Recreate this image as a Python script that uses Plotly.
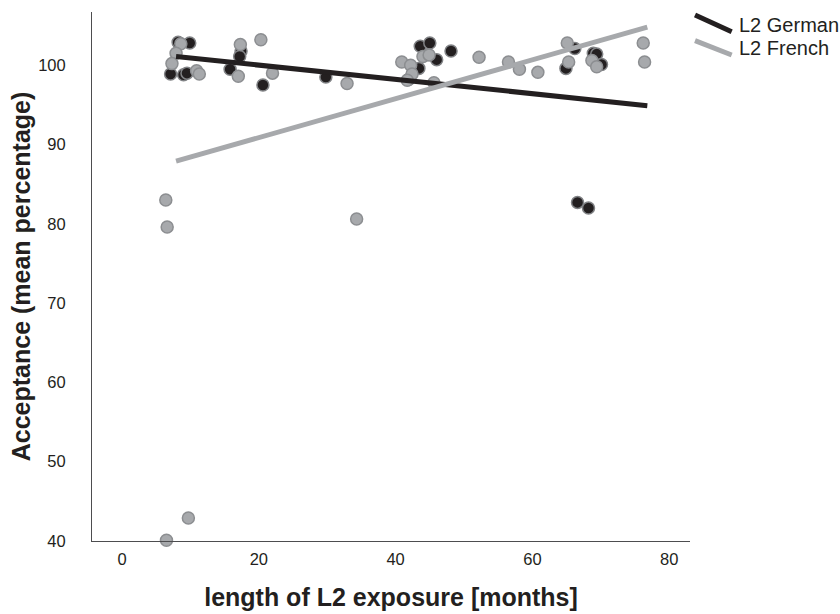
import plotly.graph_objects as go

# ---- data ----
german_x = [8.2, 9.9, 7.1, 9.0, 9.5, 17.4, 17.2, 15.8, 20.6, 29.8, 43.6, 45.0, 46.0, 48.1,
            43.4, 41.9, 66.2, 64.9, 68.9, 69.4, 70.1, 66.6, 68.2]
german_y = [102.9, 102.8, 98.9, 98.8, 99.0, 101.8, 101.1, 99.5, 97.5, 98.5, 102.4, 102.8, 100.7, 101.8,
            99.6, 98.2, 102.1, 99.6, 101.5, 101.4, 100.1, 82.7, 82.0]

french_x = [8.6, 7.9, 7.3, 10.9, 11.3, 17.3, 17.0, 20.3, 22.0, 32.9, 40.9, 42.2, 44.0, 44.9,
            42.4, 41.7, 45.6, 52.2, 56.5, 58.1, 60.8, 65.1, 65.3, 68.7, 69.4, 76.2, 76.4,
            6.4, 6.6, 34.3, 9.7, 6.5]
french_y = [102.7, 101.5, 100.2, 99.3, 98.9, 102.6, 98.6, 103.2, 99.0, 97.7, 100.4, 100.0, 101.1, 101.3,
            98.9, 98.1, 97.8, 101.0, 100.4, 99.5, 99.1, 102.8, 100.4, 100.6, 99.8, 102.8, 100.4,
            83.0, 79.6, 80.6, 42.9, 40.1]

fit_x = [7.9, 76.8]
german_fit = [101.1, 94.9]
french_fit = [87.9, 104.8]

series_names = ["L2 German", "L2 French"]
x_ticks = [0, 20, 40, 60, 80]
y_ticks = [40, 50, 60, 70, 80, 90, 100]

BLACK = "#231f20"
GRAY = "#a7a9ac"
FONT = "Liberation Sans, Arial, Helvetica"

fig = go.Figure()
fig.add_trace(go.Scatter(x=german_x, y=german_y, mode="markers", cliponaxis=False,
                         marker=dict(size=12, color=BLACK, line=dict(color="#808285", width=1.5)),
                         showlegend=False))
fig.add_trace(go.Scatter(x=french_x, y=french_y, mode="markers", cliponaxis=False,
                         marker=dict(size=12, color=GRAY, line=dict(color="#8c8e91", width=1.5)),
                         showlegend=False))
fig.add_trace(go.Scatter(x=fit_x, y=german_fit, mode="lines", line=dict(color=BLACK, width=5),
                         showlegend=False))
fig.add_trace(go.Scatter(x=fit_x, y=french_fit, mode="lines", line=dict(color=GRAY, width=5),
                         showlegend=False))

# custom legend (slanted line samples, as in the reference)
legend_items = [(series_names[0], BLACK, 0.9943, 0.9628, 0.9754),
                (series_names[1], GRAY, 0.9458, 0.9187, 0.9314)]
for name, col, y0, y1, yt in legend_items:
    fig.add_shape(type="line", xref="paper", yref="paper", x0=1.0084, y0=y0, x1=1.0697, y1=y1,
                  line=dict(color=col, width=5))
    fig.add_annotation(xref="paper", yref="paper", x=1.0778, y=yt, text=name, showarrow=False,
                       xanchor="left", yanchor="middle",
                       font=dict(family=FONT, size=20, color="#231f20"))

fig.update_layout(
    width=840, height=614,
    margin=dict(l=92, r=150, t=12, b=73),
    paper_bgcolor="white", plot_bgcolor="white",
    font=dict(family=FONT, size=16.5, color="#231f20"),
    xaxis=dict(range=[-4.39, 83.04], tickvals=x_ticks, ticks="", showgrid=False, zeroline=False,
               showline=True, linecolor="#4d4d4f", linewidth=1, ticklabelstandoff=3,
               automargin=False,
               title=dict(text="<b>length of L2 exposure [months]</b>",
                          font=dict(size=25, family=FONT, color="#231f20"),
                          standoff=21)),
    yaxis=dict(range=[40, 106.71], tickvals=y_ticks, ticks="", showgrid=False, zeroline=False,
               showline=True, linecolor="#4d4d4f", linewidth=1, ticklabelstandoff=22,
               automargin=False,
               title=dict(text="<b>Acceptance (mean percentage)</b>",
                          font=dict(size=25, family=FONT, color="#231f20"),
                          standoff=0)),
)

fig.write_html("out.html")
